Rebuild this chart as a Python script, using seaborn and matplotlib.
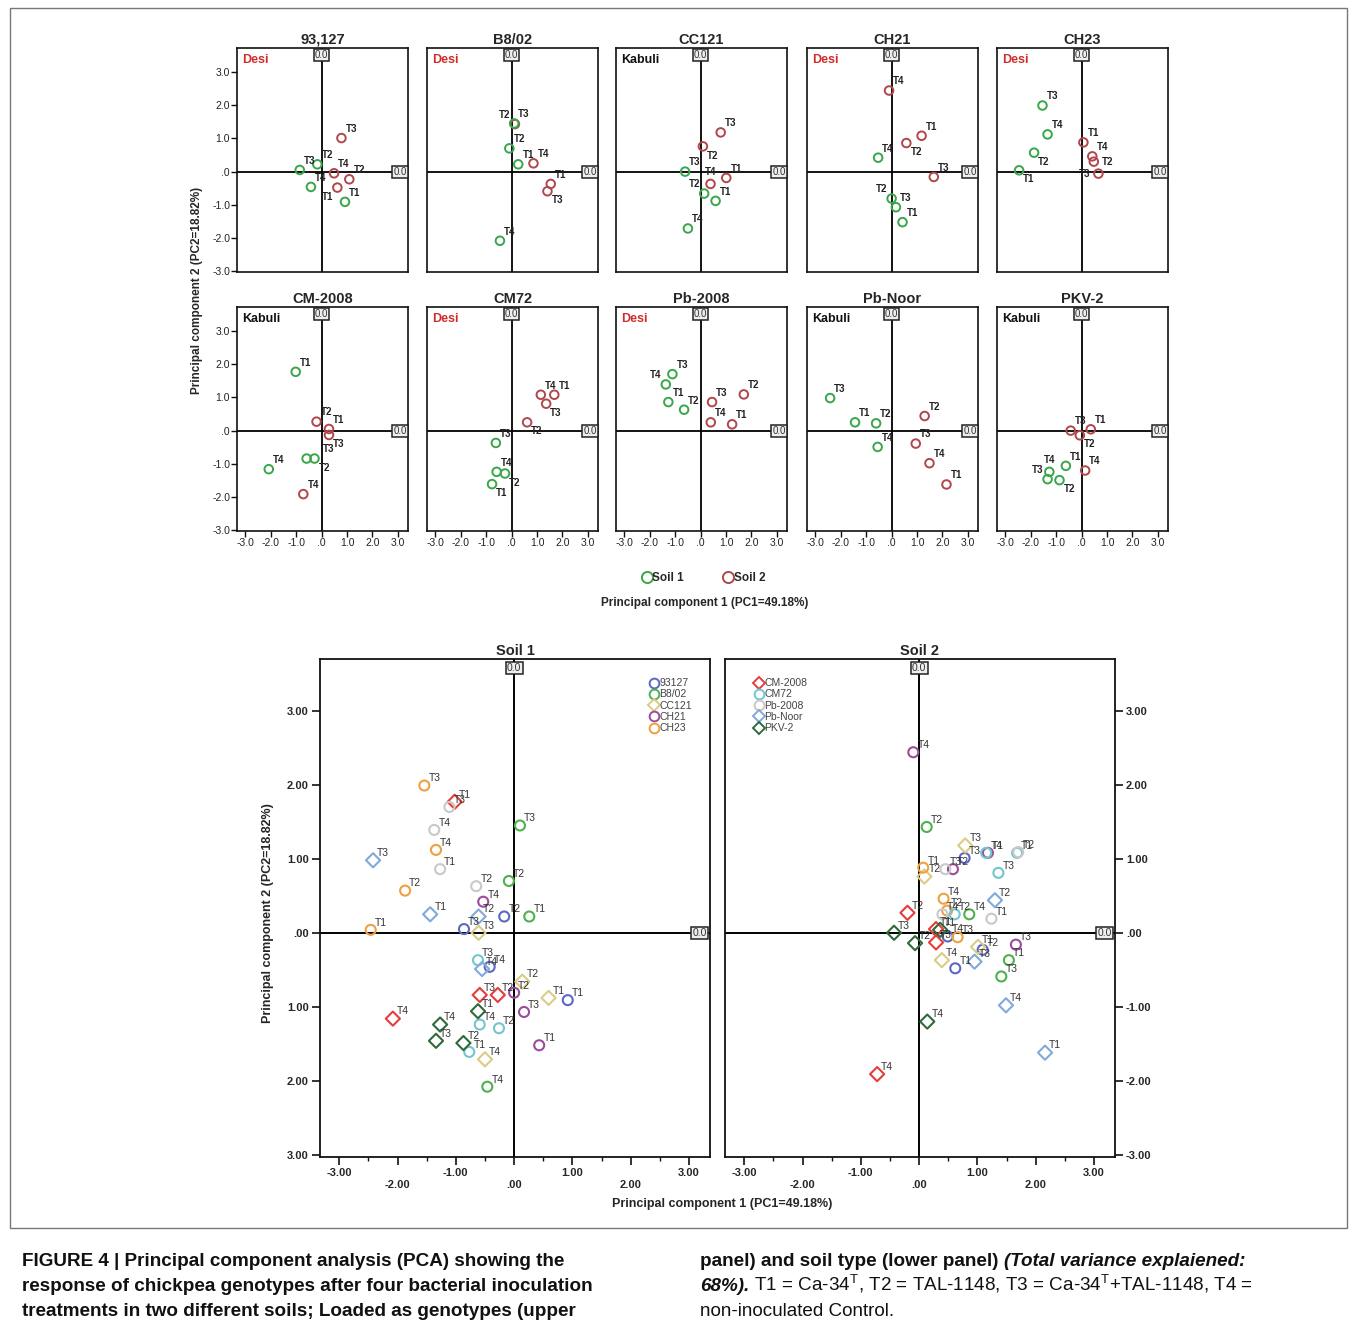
import numpy as np
import pandas as pd
import matplotlib
matplotlib.use("Agg")
import matplotlib.pyplot as plt
import matplotlib.transforms as mtransforms
from matplotlib.lines import Line2D
from matplotlib.patches import Rectangle
import seaborn as sns

# ---------------- data ----------------
genotypes = ["93,127", "B8/02", "CC121", "CH21", "CH23",
             "CM-2008", "CM72", "Pb-2008", "Pb-Noor", "PKV-2"]
legend_names = ["93127", "B8/02", "CC121", "CH21", "CH23",
                "CM-2008", "CM72", "Pb-2008", "Pb-Noor", "PKV-2"]
chickpea_type = ["Desi", "Desi", "Kabuli", "Desi", "Desi",
                 "Kabuli", "Desi", "Desi", "Kabuli", "Kabuli"]
treatments = ["T1", "T2", "T3", "T4"]

soil1_pc1 = [
    [0.92, -0.17, -0.86, -0.42],
    [0.26, -0.09, 0.10, -0.46],
    [0.59, 0.14, -0.61, -0.50],
    [0.43, 0.00, 0.17, -0.53],
    [-2.46, -1.87, -1.54, -1.34],
    [-1.02, -0.28, -0.59, -2.08],
    [-0.77, -0.26, -0.62, -0.59],
    [-1.27, -0.65, -1.11, -1.37],
    [-1.44, -0.61, -2.42, -0.55],
    [-0.62, -0.87, -1.34, -1.27],
]
soil1_pc2 = [
    [-0.91, 0.22, 0.05, -0.46],
    [0.22, 0.70, 1.45, -2.08],
    [-0.88, -0.66, 0.00, -1.71],
    [-1.52, -0.81, -1.07, 0.42],
    [0.04, 0.57, 1.99, 1.12],
    [1.77, -0.84, -0.84, -1.16],
    [-1.61, -1.29, -0.37, -1.24],
    [0.86, 0.63, 1.70, 1.39],
    [0.25, 0.22, 0.98, -0.49],
    [-1.06, -1.49, -1.46, -1.24],
]
soil2_pc1 = [
    [0.62, 1.09, 0.78, 0.49],
    [1.54, 0.13, 1.41, 0.86],
    [1.01, 0.09, 0.79, 0.39],
    [1.18, 0.58, 1.66, -0.10],
    [0.07, 0.48, 0.66, 0.42],
    [0.29, -0.20, 0.29, -0.72],
    [1.68, 0.61, 1.36, 1.15],
    [1.24, 1.70, 0.45, 0.40],
    [2.16, 1.30, 0.95, 1.49],
    [0.36, -0.07, -0.43, 0.14],
]
soil2_pc2 = [
    [-0.48, -0.23, 1.01, -0.05],
    [-0.37, 1.43, -0.59, 0.25],
    [-0.19, 0.76, 1.18, -0.37],
    [1.08, 0.86, -0.16, 2.44],
    [0.88, 0.30, -0.06, 0.46],
    [0.05, 0.27, -0.13, -1.91],
    [1.08, 0.25, 0.81, 1.08],
    [0.19, 1.09, 0.86, 0.25],
    [-1.62, 0.44, -0.39, -0.98],
    [0.04, -0.14, 0.00, -1.20],
]

soil_colors = {"Soil 1": "#3aa64a", "Soil 2": "#b0474c"}
geno_colors = ["#5a69c2", "#4fb050", "#d9cc86", "#9b4c9e", "#f0a040",
               "#e63c3c", "#72c6d0", "#c9c9c9", "#82a9dc", "#2f6a3a"]
geno_markers = ["o", "o", "D", "o", "o", "D", "o", "o", "D", "D"]

# label placement in the upper panels (default: up-right)
label_side = {
    ("93,127", "Soil 2", "T1"): "bl",
    ("B8/02", "Soil 2", "T2"): "ul",
    ("B8/02", "Soil 2", "T3"): "br",
    ("CC121", "Soil 2", "T2"): "br",
    ("CC121", "Soil 2", "T4"): "u",
    ("CC121", "Soil 1", "T2"): "ul",
    ("CH21", "Soil 2", "T2"): "br",
    ("CH21", "Soil 1", "T2"): "ul",
    ("CH23", "Soil 1", "T2"): "br",
    ("CH23", "Soil 1", "T1"): "br",
    ("CH23", "Soil 2", "T2"): "r",
    ("CH23", "Soil 2", "T3"): "l",
    ("CM-2008", "Soil 2", "T3"): "br",
    ("CM-2008", "Soil 1", "T2"): "br",
    ("CM-2008", "Soil 1", "T3"): "far",
    ("CM72", "Soil 2", "T3"): "br",
    ("CM72", "Soil 2", "T2"): "br",
    ("CM72", "Soil 1", "T2"): "br",
    ("CM72", "Soil 1", "T1"): "br",
    ("Pb-2008", "Soil 1", "T4"): "ul",
    ("PKV-2", "Soil 2", "T2"): "br",
    ("PKV-2", "Soil 1", "T4"): "u",
    ("PKV-2", "Soil 1", "T3"): "ul",
    ("PKV-2", "Soil 1", "T2"): "br",
}
side_kw = {
    "ur": ((3, 3), "left", "bottom"),
    "br": ((3, -3), "left", "top"),
    "ul": ((-3, 3), "right", "bottom"),
    "bl": ((-3, -3), "right", "top"),
    "u": ((0, 5), "center", "bottom"),
    "l": ((-6, 0), "right", "center"),
    "r": ((6, 0), "left", "center"),
    "far": ((12, 3), "left", "bottom"),
}

rows = []
for gi, g in enumerate(genotypes):
    for ti, t in enumerate(treatments):
        rows.append(dict(genotype=g, Soil="Soil 1", treatment=t,
                         PC1=soil1_pc1[gi][ti], PC2=soil1_pc2[gi][ti]))
        rows.append(dict(genotype=g, Soil="Soil 2", treatment=t,
                         PC1=soil2_pc1[gi][ti], PC2=soil2_pc2[gi][ti]))
df = pd.DataFrame(rows)

# ---------------- style ----------------
sns.set_theme(style="white")
plt.rcParams["font.family"] = ["Liberation Sans", "DejaVu Sans"]
plt.rcParams["mathtext.fontset"] = "custom"
plt.rcParams["mathtext.rm"] = "Liberation Sans"
plt.rcParams["axes.edgecolor"] = "#111111"

W, H = 1357, 1326
fig = plt.figure(figsize=(W / 100, H / 100), dpi=100)
fig.patch.set_facecolor("white")


def fax(left, top, right, bottom):
    return fig.add_axes([left / W, 1 - bottom / H, (right - left) / W, (bottom - top) / H])


def hollow(coll, lw):
    fc = coll.get_facecolors()
    coll.set_edgecolors(fc)
    coll.set_facecolors("none")
    coll.set_linewidths(lw)
    coll.set_zorder(4)


def zero_boxes(ax, fs, pad):
    tt = mtransforms.blended_transform_factory(ax.transData, ax.transAxes)
    ax.text(0, 0.992, "0.0", transform=tt, ha="center", va="top", fontsize=fs,
            color="#333333", zorder=6,
            bbox=dict(boxstyle="square,pad=%g" % pad, fc="#eeeeee", ec="#222222", lw=1.1))
    tr = mtransforms.blended_transform_factory(ax.transAxes, ax.transData)
    ax.text(0.992, 0, "0.0", transform=tr, ha="right", va="center", fontsize=fs,
            color="#333333", zorder=6,
            bbox=dict(boxstyle="square,pad=%g" % pad, fc="#eeeeee", ec="#222222", lw=1.1))


# ---------------- upper grid ----------------
col_left = [237, 427, 616, 807, 997]
row_top = [48, 307]
pw, ph = 171, 224
ticks = [-3, -2, -1, 0, 1, 2, 3]
tick_lbls = ["-3.0", "-2.0", "-1.0", ".0", "1.0", "2.0", "3.0"]

for gi, g in enumerate(genotypes):
    r, c = divmod(gi, 5)
    l, t = col_left[c], row_top[r]
    ax = fax(l, t, l + pw, t + ph)
    ax.axhline(0, color="black", lw=1.3, zorder=2)
    ax.axvline(0, color="black", lw=1.3, zorder=2)
    sub = df[df.genotype == g]
    sns.scatterplot(data=sub, x="PC1", y="PC2", hue="Soil", palette=soil_colors,
                    hue_order=["Soil 1", "Soil 2"], s=38, ax=ax, legend=False)
    hollow(ax.collections[-1], 1.4)
    for _, rw in sub.iterrows():
        side = label_side.get((g, rw.Soil, rw.treatment), "ur")
        off, ha, va = side_kw[side]
        ax.annotate(rw.treatment, (rw.PC1, rw.PC2), xytext=off,
                    textcoords="offset points", fontsize=7, color="#222222",
                    fontweight="bold", zorder=5, ha=ha, va=va)
    ax.set_xlim(-3.33, 3.4)
    ax.set_ylim(-3.02, 3.72)
    ax.set_xlabel("")
    ax.set_ylabel("")
    ax.set_title(g, fontsize=10.5, fontweight="bold", pad=3)
    for sp in ax.spines.values():
        sp.set_linewidth(1.2)
        sp.set_color("#111111")
    ax.set_xticks(ticks)
    ax.set_yticks(ticks)
    ax.tick_params(axis="both", direction="out", length=4, width=1, color="#111111",
                   labelsize=7.5, pad=1, labelcolor="#222222")
    if c == 0:
        ax.set_yticklabels(tick_lbls)
        ax.tick_params(axis="y", left=True)
    else:
        ax.set_yticklabels([])
        ax.tick_params(axis="y", left=False)
    if r == 1:
        ax.set_xticklabels(tick_lbls)
        ax.tick_params(axis="x", bottom=True)
    else:
        ax.set_xticklabels([])
        ax.tick_params(axis="x", bottom=False)
    tc = "#d12b2b" if chickpea_type[gi] == "Desi" else "#111111"
    ax.text(0.03, 0.975, chickpea_type[gi], transform=ax.transAxes, ha="left", va="top",
            fontsize=9, fontweight="bold", color=tc)
    zero_boxes(ax, 7, 0.1)

fig.text(197 / W, 1 - 290 / H, "Principal component 2 (PC2=18.82%)", rotation=90,
         ha="center", va="center", fontsize=8.5, fontweight="bold")
fig.text(705 / W, 1 - 603 / H, "Principal component 1 (PC1=49.18%)",
         ha="center", va="center", fontsize=8.5, fontweight="bold")
soil_handles = [Line2D([], [], ls="", marker="o", mfc="none", mec=soil_colors[s], mew=1.4, ms=8)
                for s in ["Soil 1", "Soil 2"]]
fig.legend(soil_handles, ["Soil 1", "Soil 2"], loc="center",
           bbox_to_anchor=(703 / W, 1 - 578 / H), ncol=2, frameon=False,
           handletextpad=0.0, columnspacing=3.2, handlelength=1.0,
           prop=dict(size=8.5, weight="bold"))

# ---------------- lower panels ----------------
lower_ticks_lbl_left = ["3.00", "2.00", "1.00", ".00", "1.00", "2.00", "3.00"]
lower_ticks_lbl_right = ["-3.00", "-2.00", "-1.00", ".00", "1.00", "2.00", "3.00"]
xt_lbls = ["-3.00", "\n-2.00", "-1.00", "\n.00", "1.00", "\n2.00", "3.00"]
panels = [("Soil 1", 320, 710), ("Soil 2", 725, 1115)]
for pi, (soil, l, rgt) in enumerate(panels):
    ax = fax(l, 659, rgt, 1157)
    ax.axhline(0, color="black", lw=1.4, zorder=2)
    ax.axvline(0, color="black", lw=1.4, zorder=2)
    sub = df[df.Soil == soil]
    sns.scatterplot(data=sub, x="PC1", y="PC2", hue="genotype", style="genotype",
                    hue_order=genotypes, style_order=genotypes,
                    palette=dict(zip(genotypes, geno_colors)),
                    markers=dict(zip(genotypes, geno_markers)),
                    s=52, ax=ax, legend=False)
    hollow(ax.collections[-1], 1.5)
    for _, rw in sub.iterrows():
        ax.annotate(rw.treatment, (rw.PC1, rw.PC2), xytext=(3, 3),
                    textcoords="offset points", fontsize=7.5, color="#333333", zorder=5)
    ax.set_xlim(-3.33, 3.36)
    ax.set_ylim(-3.03, 3.70)
    ax.set_xlabel("")
    ax.set_ylabel("")
    ax.set_title(soil, fontsize=10.5, fontweight="bold", pad=3)
    for sp in ax.spines.values():
        sp.set_linewidth(1.3)
        sp.set_color("#111111")
    ax.set_xticks(ticks)
    ax.set_xticks(np.arange(-3, 3.01, 0.5), minor=True)
    ax.set_xticklabels(xt_lbls)
    ax.set_yticks(ticks)
    ax.tick_params(axis="x", which="major", bottom=True, direction="out", length=6,
                   width=1.2, labelsize=8, pad=2, color="#111111")
    ax.tick_params(axis="x", which="minor", bottom=True, direction="out", length=3,
                   width=1.0, color="#111111")
    for tl in ax.get_xticklabels():
        tl.set_fontweight("bold")
    if pi == 0:
        ax.set_yticklabels(lower_ticks_lbl_left)
        ax.tick_params(axis="y", left=True, right=False, direction="out", length=6,
                       width=1.2, labelsize=8, pad=2, color="#111111")
        handles = [Line2D([], [], ls="", marker=geno_markers[i], mfc="none",
                          mec=geno_colors[i], mew=1.4, ms=7 if geno_markers[i] == "o" else 6.5)
                   for i in range(5)]
        ax.legend(handles, legend_names[:5], loc="upper left", bbox_to_anchor=(0.83, 0.972),
                  frameon=False, handletextpad=0.0, labelspacing=0.12, handlelength=1.0,
                  borderpad=0, prop=dict(size=7.5), labelcolor="#444444")
    else:
        ax.yaxis.tick_right()
        ax.set_yticklabels(lower_ticks_lbl_right)
        ax.tick_params(axis="y", left=False, right=True, labelright=True, labelleft=False,
                       direction="out", length=6, width=1.2, labelsize=8, pad=2,
                       color="#111111")
        handles = [Line2D([], [], ls="", marker=geno_markers[i], mfc="none",
                          mec=geno_colors[i], mew=1.4, ms=7 if geno_markers[i] == "o" else 6.5)
                   for i in range(5, 10)]
        ax.legend(handles, legend_names[5:], loc="upper left", bbox_to_anchor=(0.06, 0.972),
                  frameon=False, handletextpad=0.0, labelspacing=0.12, handlelength=1.0,
                  borderpad=0, prop=dict(size=7.5), labelcolor="#444444")
    for tl in ax.get_yticklabels():
        tl.set_fontweight("bold")
    zero_boxes(ax, 7.5, 0.12)

fig.text(268 / W, 1 - 913 / H, "Principal component 2 (PC2=18.82%)", rotation=90,
         ha="center", va="center", fontsize=9, fontweight="bold")
fig.text(722 / W, 1 - 1204 / H, "Principal component 1 (PC1=49.18%)",
         ha="center", va="center", fontsize=9, fontweight="bold")

# ---------------- frame and caption ----------------
fig.add_artist(Rectangle((10 / W, 1 - 1228 / H), 1337 / W, 1220 / H,
                         transform=fig.transFigure, fill=False, ec="#777777", lw=1.0))

cax = fig.add_axes([0, 0, 1, 1])
cax.axis("off")
cax.set_xlim(0, W)
cax.set_ylim(H, 0)

fs = 13.6
left_lines = ["FIGURE 4 | Principal component analysis (PCA) showing the",
              "response of chickpea genotypes after four bacterial inoculation",
              "treatments in two different soils; Loaded as genotypes (upper"]
for i, ln in enumerate(left_lines):
    cax.text(22, 1266 + 25 * i, ln, fontsize=fs, fontweight="bold", va="baseline",
             ha="left", color="#111111")


def chain(pieces, x, y):
    s, kw = pieces[0]
    t = cax.text(x, y, s, va="baseline", ha="left", fontsize=fs, color="#111111", **kw)
    for s, kw in pieces[1:]:
        t = cax.annotate(s, xy=(1, 0), xycoords=t, va="bottom", ha="left",
                         fontsize=fs, color="#111111", **kw)


chain([("panel) and soil type (lower panel) ", dict(fontweight="bold")),
       ("(Total variance explaiened:", dict(fontweight="bold", fontstyle="italic"))], 700, 1266)
chain([("68%).", dict(fontweight="bold", fontstyle="italic")),
       (" T1 = Ca-34$^{\\mathrm{T}}$, T2 = TAL-1148, T3 = Ca-34$^{\\mathrm{T}}$+TAL-1148, T4 =",
        dict())], 700, 1291)
cax.text(700, 1316, "non-inoculated Control.", fontsize=fs, va="baseline", ha="left",
         color="#111111")

fig.savefig("out.png", dpi=100)
